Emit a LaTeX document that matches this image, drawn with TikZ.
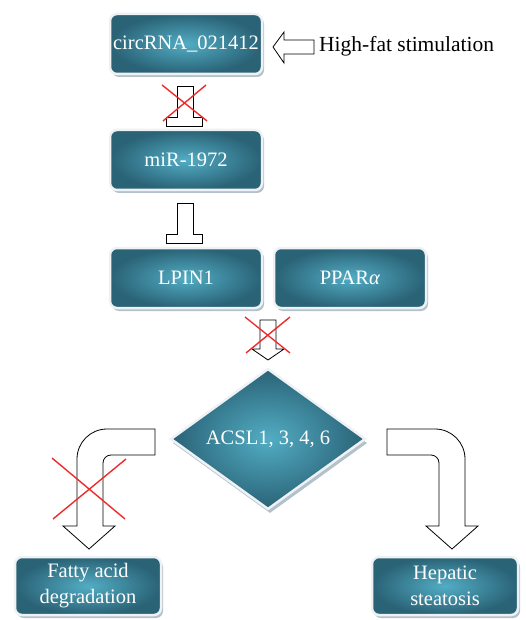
\documentclass[tikz,border=0pt]{standalone}
\usepackage{fontspec}
\setmainfont{Liberation Serif}
\usetikzlibrary{shapes.geometric,shadows,calc}
\definecolor{tealdark}{HTML}{2A6276}
\definecolor{teallight}{HTML}{52ADC4}
\definecolor{rimcol}{HTML}{EEF2F4}
\definecolor{shadecol}{HTML}{B3C2CA}
\definecolor{xred}{HTML}{EE2B2B}
\begin{document}
\begin{tikzpicture}[x=1pt,y=-1pt,
  box/.style={rectangle, rounded corners=7pt, minimum width=152pt, minimum height=60pt,
    inner sep=0pt, inner color=teallight, outer color=tealdark, draw=rimcol, line width=2.5pt,
    text=white, font=\fontsize{20.5}{26}\selectfont, align=center,
    drop shadow={shadow xshift=2pt, shadow yshift=-3pt, fill=shadecol, opacity=1}},
  smallbox/.style={box, minimum width=146pt, minimum height=58pt},
  dia/.style={diamond, minimum width=195pt, minimum height=135pt, inner sep=0pt,
    inner color=teallight, outer color=tealdark, draw=rimcol, line width=2.5pt,
    text=white, font=\fontsize{20.5}{24}\selectfont,
    drop shadow={shadow xshift=2pt, shadow yshift=-4pt, fill=shadecol, opacity=1}},
  openarrow/.style={draw=black, fill=white, line width=0.8pt, line join=miter},
  cross/.style={draw=xred, line width=1.4pt},
  label/.style={font=\fontsize{21.5}{24}\selectfont, text=black, anchor=west, inner sep=0pt}]
\useasboundingbox (0,0) rectangle (525,620);

% nodes
\node[box] (circ) at (186,44) {circRNA\_021412};
\node[box] (mir) at (186,160) {miR-1972};
\node[box] (lpin) at (186,278) {LPIN1};
\node[box] (ppar) at (350,278) {PPAR\textit{α}};
\node[dia] (acsl) at (268,439) {ACSL1, 3, 4, 6};
\node[smallbox] (fatty) at (88,586) {Fatty acid\\degradation};
\node[smallbox] (hep) at (445,586) {Hepatic\\steatosis};
\node[label] (hf) at (319,46) {High-fat stimulation};

% high-fat open arrow pointing to circRNA
\draw[openarrow] (273,47) -- (284,32) -- (284,40) -- (314,40) -- (314,54) -- (284,54) -- (284,63) -- cycle;

% inhibition T-bar circRNA -| miR
\draw[openarrow] (177,86) -- (193,86) -- (193,117) -- (202,117) -- (202,126) -- (166,126) -- (166,117) -- (177,117) -- cycle;
\draw[cross] (162,85) -- (207,121);
\draw[cross] (206,85) -- (163,121);

% inhibition T-bar miR -| LPIN1
\draw[openarrow] (177,203) -- (193,203) -- (193,234) -- (202,234) -- (202,243) -- (166,243) -- (166,234) -- (177,234) -- cycle;

% down arrow LPIN1/PPAR -> ACSL
\draw[openarrow] (260,320) -- (276,320) -- (276,349) -- (284,349) -- (268,360) -- (252,349) -- (260,349) -- cycle;
\draw[cross] (245,317) -- (290,353);
\draw[cross] (290,317) -- (246,353);

% bent arrow to fatty acid degradation
\draw[openarrow] (155,429) -- (107,429) .. controls (90.4,429) and (77,442.4) .. (77,459)
  -- (77,526) -- (63,526) -- (89,549) -- (115,526) -- (103,526) -- (103,463)
  .. controls (103,458.6) and (106.6,455) .. (111,455) -- (155,455) -- cycle;
\draw[cross] (52,458) -- (125,519);
\draw[cross] (126,459) -- (53,519);

% bent arrow to hepatic steatosis
\draw[openarrow] (387,429) -- (435,429) .. controls (451.6,429) and (465,442.4) .. (465,459)
  -- (465,526) -- (478,526) -- (452,549) -- (426,526) -- (439,526) -- (439,463)
  .. controls (439,458.6) and (435.4,455) .. (431,455) -- (387,455) -- cycle;
\end{tikzpicture}
\end{document}
